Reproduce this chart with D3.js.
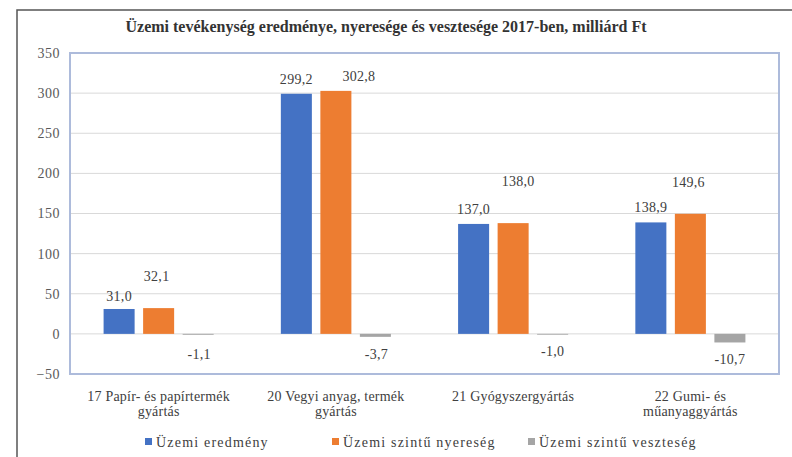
<!DOCTYPE html>
<html><head><meta charset="utf-8">
<script src="https://cdn.jsdelivr.net/npm/d3@7"></script>
<style>body{margin:0;background:#fff}svg{display:block}</style>
</head><body>
<script>
const categories = [["17 Papír- és papírtermék","gyártás"],["20 Vegyi anyag, termék","gyártás"],["21 Gyógyszergyártás"],["22 Gumi- és","műanyaggyártás"]];
const seriesNames = ["Üzemi eredmény","Üzemi szintű nyereség","Üzemi szintű veszteség"];
const eredmeny = [31.0, 299.2, 137.0, 138.9];
const nyereseg = [32.1, 302.8, 138.0, 149.6];
const veszteseg = [-1.1, -3.7, -1.0, -10.7];
const yTicks = [-50, 0, 50, 100, 150, 200, 250, 300, 350];
const colors = ["#4472C4", "#ED7D31", "#A5A5A5"];
// label nudges (dx, dy) per series per category, to mimic manually moved labels
const nudgeDx = [[0,0,0,0],[-2,23,5,-2],[1,1,0,0]];
const nudgeDy = [[1,-1,-1,-1],[-18,-1,-28,-18],[2,0,-1,0]];

const W = 792, H = 457;
const FONT = "Liberation Serif, Times New Roman, serif";
const svg = d3.select("body").append("svg").attr("width", W).attr("height", H).attr("font-family", FONT);

svg.append("path").attr("d", "M17,458 L17,10 L793,10").attr("fill","none").attr("stroke","#555").attr("stroke-width",1.5);

svg.append("text").attr("x", 386).attr("y", 32).attr("text-anchor","middle")
  .attr("font-weight","bold").attr("font-size", 16).attr("fill","#333")
  .text("Üzemi tevékenység eredménye, nyeresége és vesztesége 2017-ben, milliárd Ft");

const L = 70, R = 779, T = 53, B = 374;
const y = d3.scaleLinear().domain([-50, 350]).range([B, T]);
const x0 = d3.scaleBand().domain(d3.range(categories.length)).range([L, R]);
const x1 = d3.scaleBand().domain(d3.range(3)).range([0, x0.bandwidth()]).paddingInner(0.215).paddingOuter(0.85);

svg.append("g").selectAll("line").data(yTicks.slice(1, -1)).join("line")
  .attr("x1", L).attr("x2", R).attr("y1", d => y(d)).attr("y2", d => y(d))
  .attr("stroke", "#d9d9d9").attr("stroke-width", 1);

const yAxis = d3.axisLeft(y).tickValues(yTicks).tickSize(0).tickPadding(10).tickFormat(d3.format("d"));
const ya = svg.append("g").attr("transform", `translate(${L},0)`).call(yAxis);
ya.select(".domain").remove();
ya.attr("font-family", FONT);
ya.selectAll("text").attr("font-size", 14).attr("letter-spacing", 0.5).attr("fill", "#595959");

const series = [eredmeny, nyereseg, veszteseg];
const fmt = v => d3.format(".1f")(v).replace(".", ",").replace("−","-");

series.forEach((vals, s) => {
  const g = svg.append("g");
  g.selectAll("rect").data(vals).join("rect")
    .attr("x", (d, i) => x0(i) + x1(s))
    .attr("width", x1.bandwidth())
    .attr("y", d => y(Math.max(0, d)))
    .attr("height", d => Math.abs(y(d) - y(0)))
    .attr("fill", colors[s]);
  g.selectAll("text").data(vals).join("text")
    .attr("x", (d, i) => x0(i) + x1(s) + x1.bandwidth() / 2 + nudgeDx[s][i])
    .attr("y", (d, i) => (d >= 0 ? y(d) - 9 : y(d) + 22) + nudgeDy[s][i])
    .attr("text-anchor", "middle").attr("font-size", 14).attr("letter-spacing", 0.3).attr("fill", "#404040")
    .text(d => fmt(d));
});

svg.append("rect").attr("x", L).attr("y", T).attr("width", R - L).attr("height", B - T)
  .attr("fill", "none").attr("stroke", "#adbbdb").attr("stroke-width", 2);

const cg = svg.append("g");
categories.forEach((lines, i) => {
  const t = cg.append("text").attr("x", x0(i) + x0.bandwidth() / 2).attr("y", 401)
    .attr("text-anchor", "middle").attr("font-size", 14).attr("letter-spacing", 0.2).attr("fill", "#404040");
  lines.forEach((ln, k) => t.append("tspan").attr("x", x0(i) + x0.bandwidth() / 2).attr("dy", k ? 15 : 0).text(ln));
});

const legX = [145, 332, 528];
const lg = svg.append("g");
seriesNames.forEach((n, s) => {
  lg.append("rect").attr("x", legX[s]).attr("y", 438).attr("width", 7).attr("height", 7).attr("fill", colors[s]);
  lg.append("text").attr("x", legX[s] + 11).attr("y", 447).attr("font-size", 14).attr("letter-spacing", 1.2).attr("fill", "#404040").text(n);
});
</script>
</body></html>
